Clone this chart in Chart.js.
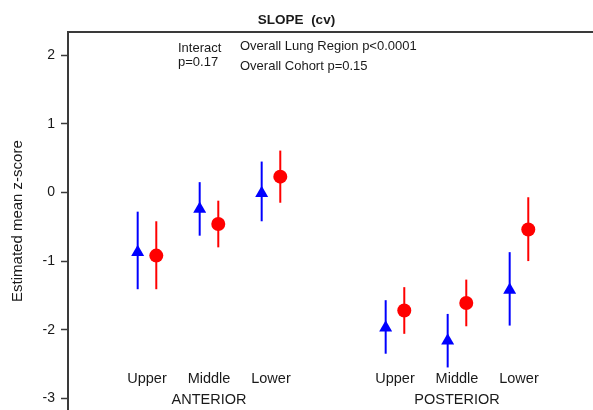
<!DOCTYPE html>
<html>
<head>
<meta charset="utf-8">
<script src="https://cdn.jsdelivr.net/npm/chart.js@4/dist/chart.umd.min.js"></script>
<style>
  html, body { margin: 0; padding: 0; background: #fff; }
  #wrap { width: 593px; height: 410px; position: relative; }
</style>
</head>
<body>
<div id="wrap"><canvas id="chartSlope"></canvas></div>
<script>
// Lung regions, positions on the x axis (gap between the two sides)
const regions = ['Upper', 'Middle', 'Lower', 'Upper', 'Middle', 'Lower'];
const regionPos = [1, 2, 3, 5, 6, 7];
const sides = ['ANTERIOR', 'POSTERIOR'];
const sidePos = [2, 6];

// Cohort 1 (blue triangles): estimate, lower and upper limit
const blueMean = [-0.87, -0.24, -0.01, -1.97, -2.16, -1.42];
const blueLow  = [-1.41, -0.63, -0.42, -2.35, -2.55, -1.94];
const blueHigh = [-0.28,  0.15,  0.45, -1.57, -1.77, -0.87];

// Cohort 2 (red circles)
const redMean = [-0.92, -0.46,  0.23, -1.72, -1.61, -0.54];
const redLow  = [-1.41, -0.80, -0.15, -2.06, -1.95, -1.00];
const redHigh = [-0.42, -0.12,  0.61, -1.38, -1.27, -0.07];

const yTicks = [-3, -2, -1, 0, 1, 2];

const FONT = "'Liberation Sans', Arial, sans-serif";
const TEXT = '#1a1a1a';
const AXIS = '#3a3a3a';
const BLUE = '#0000ff';
const RED = '#ff0000';
const PAIR_OFFSET = 0.15;

function points(means, lows, highs, shift) {
    return means.map((m, i) => ({ x: regionPos[i] + shift, y: m, lo: lows[i], hi: highs[i] }));
}

// vertical error bars, drawn under the markers
const errorBars = {
    id: 'errorBars',
    beforeDatasetsDraw(chart) {
        const ctx = chart.ctx;
        const xs = chart.scales.x, ys = chart.scales.y;
        chart.data.datasets.forEach(ds => {
            ctx.save();
            ctx.strokeStyle = ds.borderColor;
            ctx.lineWidth = 2;
            ds.data.forEach(p => {
                const px = xs.getPixelForValue(p.x);
                ctx.beginPath();
                ctx.moveTo(px, ys.getPixelForValue(p.lo));
                ctx.lineTo(px, ys.getPixelForValue(p.hi));
                ctx.stroke();
            });
            ctx.restore();
        });
    }
};

// region names, side names and the p-value notes
const labelsPlugin = {
    id: 'labelsPlugin',
    afterDraw(chart) {
        const ctx = chart.ctx;
        const xs = chart.scales.x, ys = chart.scales.y;
        const area = chart.chartArea;
        ctx.save();
        ctx.fillStyle = TEXT;
        ctx.textBaseline = 'middle';
        ctx.textAlign = 'center';
        ctx.font = '14.5px ' + FONT;
        regions.forEach((r, i) => {
            ctx.fillText(r, xs.getPixelForValue(regionPos[i]), ys.getPixelForValue(-2.72));
        });
        sides.forEach((s, i) => {
            ctx.fillText(s, xs.getPixelForValue(sidePos[i]), ys.getPixelForValue(-3.02));
        });

        ctx.textAlign = 'left';
        ctx.font = '13px ' + FONT;
        ctx.fillText('Interact', area.left + 110, area.top + 16);
        ctx.fillText('p=0.17', area.left + 110, area.top + 30);
        ctx.fillText('Overall Lung Region p<0.0001', area.left + 172, area.top + 14);
        ctx.fillText('Overall Cohort p=0.15', area.left + 172, area.top + 34);
        ctx.restore();
    }
};

const ctx = document.getElementById('chartSlope').getContext('2d');
new Chart(ctx, {
    type: 'scatter',
    data: {
        datasets: [{
            label: 'Cohort 1',
            data: points(blueMean, blueLow, blueHigh, -PAIR_OFFSET),
            pointStyle: 'triangle',
            pointRadius: 7.5,
            pointHoverRadius: 7.5,
            backgroundColor: BLUE,
            borderColor: BLUE,
            borderWidth: 0
        }, {
            label: 'Cohort 2',
            data: points(redMean, redLow, redHigh, PAIR_OFFSET),
            pointStyle: 'circle',
            pointRadius: 7,
            pointHoverRadius: 7,
            backgroundColor: RED,
            borderColor: RED,
            borderWidth: 0
        }]
    },
    options: {
        responsive: true,
        maintainAspectRatio: false,
        animation: false,
        layout: { autoPadding: false, padding: { left: 0, right: 0, top: 0, bottom: 0 } },
        scales: {
            x: {
                type: 'linear',
                position: 'top',
                min: -0.274,
                max: 8.194,
                ticks: { display: false },
                grid: { display: false, drawTicks: false },
                border: { display: true, color: AXIS, width: 2 },
                afterFit: scale => { scale.height = 0; }
            },
            y: {
                min: -3.17,
                max: 2.335,
                afterBuildTicks: scale => { scale.ticks = yTicks.map(v => ({ value: v })); },
                afterFit: scale => {
                    // axis runs to the bottom edge, no room kept for the last label
                    scale.width = 68;
                    scale.paddingTop = 0;
                    scale.paddingBottom = 0;
                },
                ticks: {
                    color: TEXT,
                    padding: 6,
                    font: { family: FONT, size: 14 }
                },
                grid: {
                    drawOnChartArea: false,
                    drawTicks: true,
                    tickLength: 7,
                    tickColor: AXIS,
                    tickWidth: 1.5
                },
                border: { display: true, color: AXIS, width: 2 },
                title: {
                    display: true,
                    text: 'Estimated mean z-score',
                    color: TEXT,
                    padding: { top: 9, bottom: 0 },
                    font: { family: FONT, size: 15 }
                }
            }
        },
        plugins: {
            legend: { display: false },
            tooltip: { enabled: false },
            title: {
                display: true,
                text: 'SLOPE  (cv)',
                color: TEXT,
                padding: { top: 12, bottom: 4 },
                font: { family: FONT, size: 13.5, weight: 'bold' }
            }
        }
    },
    plugins: [errorBars, labelsPlugin]
});
</script>
</body>
</html>
